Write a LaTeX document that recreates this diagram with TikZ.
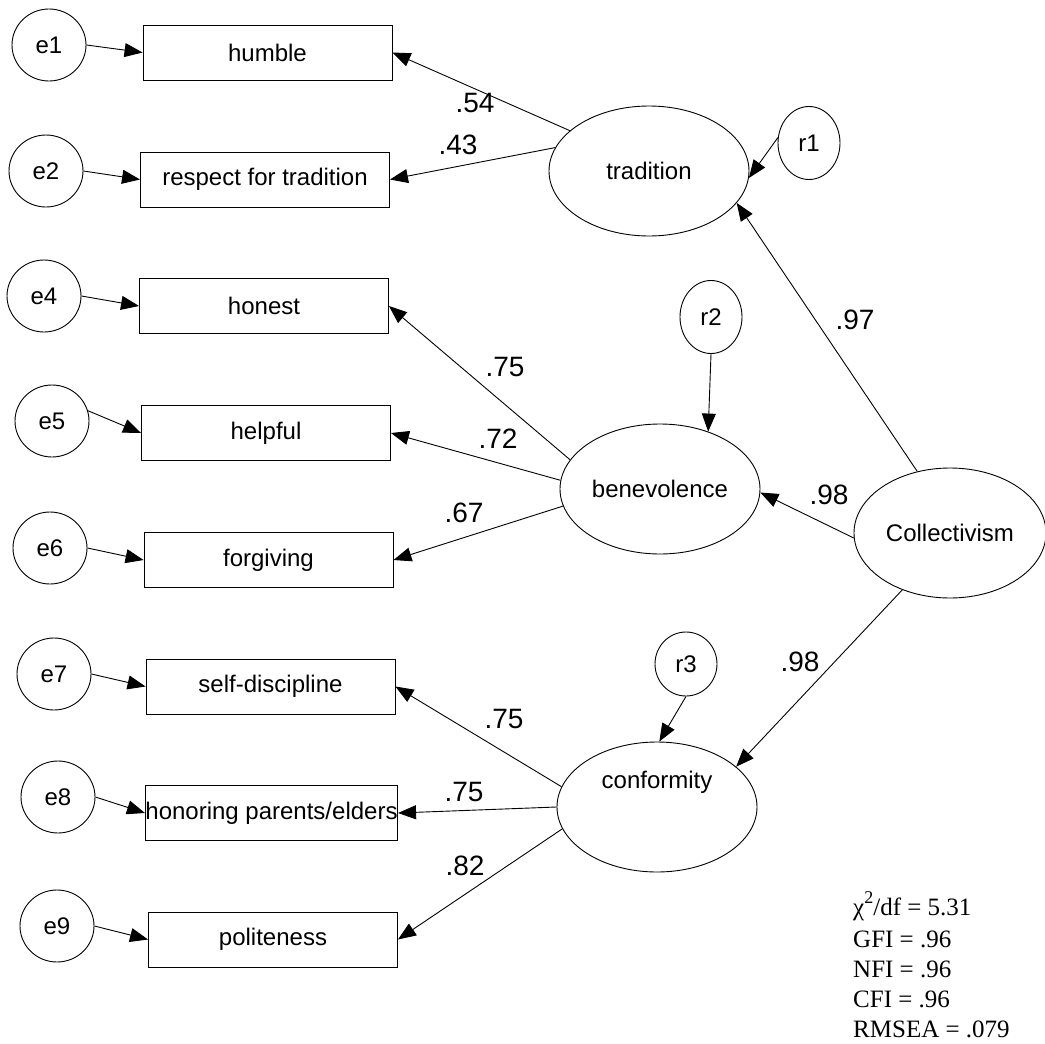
\documentclass[tikz,border=0pt]{standalone}
\usepackage{fontspec}
\setmainfont{Liberation Sans}
\newfontfamily\statfont{Liberation Serif}
\usetikzlibrary{arrows.meta,shapes.geometric}
\begin{document}
\begin{tikzpicture}[x=1pt,y=-1pt,
  obs/.style={draw, rectangle, minimum width=249pt, minimum height=55pt, inner sep=0pt, line width=0.9pt, font=\fontsize{24}{28}\selectfont},
  err/.style={draw, ellipse, minimum width=74pt, minimum height=72pt, inner sep=0pt, line width=0.9pt, font=\fontsize{24}{28}\selectfont},
  res/.style={draw, ellipse, minimum width=62pt, minimum height=73pt, inner sep=0pt, line width=0.9pt, font=\fontsize{24}{28}\selectfont},
  lat/.style={draw, ellipse, minimum width=200pt, minimum height=130pt, inner sep=0pt, line width=0.9pt, font=\fontsize{24}{28}\selectfont},
  link/.style={line width=0.9pt, -{Triangle[length=18pt,width=14pt]}},
  coef/.style={inner sep=0pt, font=\fontsize{28}{32}\selectfont},
  stat/.style={inner sep=0pt, anchor=base west, font=\statfont\fontsize{25}{30}\selectfont}]
\useasboundingbox (0,0) rectangle (1045,1044);

% observed indicators
\node[obs] (humble) at (267.5,52.5) {humble};
\node[obs] (respect) at (265,179.5) {respect for tradition};
\node[obs] (honest) at (264,306) {honest};
\node[obs] (helpful) at (266,433) {helpful};
\node[obs] (forgiving) at (268.5,560) {forgiving};
\node[obs] (selfd) at (270.5,686.5) {self-discipline};
\node[obs] (honoring) at (271.5,813) {honoring parents/elders};
\node[obs] (polite) at (273,939.5) {politeness};

% error terms
\node[err] (e1) at (49,45) {e1};
\node[err] (e2) at (46,171) {e2};
\node[err] (e4) at (44,296) {e4};
\node[err] (e5) at (52,421) {e5};
\node[err] (e6) at (50,548) {e6};
\node[err] (e7) at (54,674) {e7};
\node[err] (e8) at (58,797) {e8};
\node[err] (e9) at (57,926) {e9};

% latent variables
\node[lat] (trad) at (649,171) {tradition};
\node[lat] (benev) at (660,489) {benevolence};
\node[lat, label={[inner sep=0pt, font=\fontsize{24}{28}\selectfont, yshift=25pt]center:conformity}] (conf) at (657,807) {};
\node[lat, minimum width=192pt] (coll) at (950,533) {Collectivism};

% residuals
\node[res] (r1) at (809,143) {r1};
\node[res] (r2) at (711,317) {r2};
\node[res, minimum height=64pt] (r3) at (686,664) {r3};

% error arrows
\draw[link] (e1.east) -- (humble.west);
\draw[link] (e2.east) -- (respect.west);
\draw[link] (e4.east) -- (honest.west);
\draw[link] (e5.16) -- (helpful.west);
\draw[link] (e6.east) -- (forgiving.west);
\draw[link] (e7.east) -- (selfd.west);
\draw[link] (e8.east) -- (honoring.west);
\draw[link] (e9.east) -- (polite.west);

% loadings
\draw[link] (trad.153) -- (humble.east);
\draw[link] (trad.166) -- (respect.east);
\draw[link] (benev.162) -- (honest.east);
\draw[link] (benev.175) -- (helpful.east);
\draw[link] (benev.190) -- (forgiving.east);
\draw[link] (conf.168) -- (selfd.east);
\draw[link] (conf.180) -- (honoring.east);
\draw[link] (conf.193) -- (polite.east);

% structural paths
\draw[link] (coll.118) -- (trad.-20);
\draw[link] (coll.183) -- (benev.-2);
\draw[link] (coll.230) -- (conf.27);

% residual arrows
\draw[link] (r1.170) -- (trad.-4);
\draw[link] (r2.south) -- (benev.50);
\draw[link] (r3.south) -- (conf.88);

% coefficients
\node[coef] (c1) at (475,103) {.54};
\node[coef] (c2) at (458,145) {.43};
\node[coef] (c3) at (505,367) {.75};
\node[coef] (c4) at (498,439) {.72};
\node[coef] (c5) at (464,513) {.67};
\node[coef] (c6) at (504,719) {.75};
\node[coef] (c7) at (464,792) {.75};
\node[coef] (c8) at (465,866) {.82};
\node[coef] (c9) at (855,320) {.97};
\node[coef] (c10) at (829,495) {.98};
\node[coef] (c11) at (800,662) {.98};

% fit statistics
\node[stat] (s1) at (853,915) {χ\raisebox{12pt}{\fontsize{18}{18}\selectfont 2}/df = 5.31};
\node[stat] (s2) at (853,947) {GFI = .96};
\node[stat] (s3) at (853,977) {NFI = .96};
\node[stat] (s4) at (853,1007) {CFI = .96};
\node[stat] (s5) at (853,1037) {RMSEA = .079};
\end{tikzpicture}
\end{document}
